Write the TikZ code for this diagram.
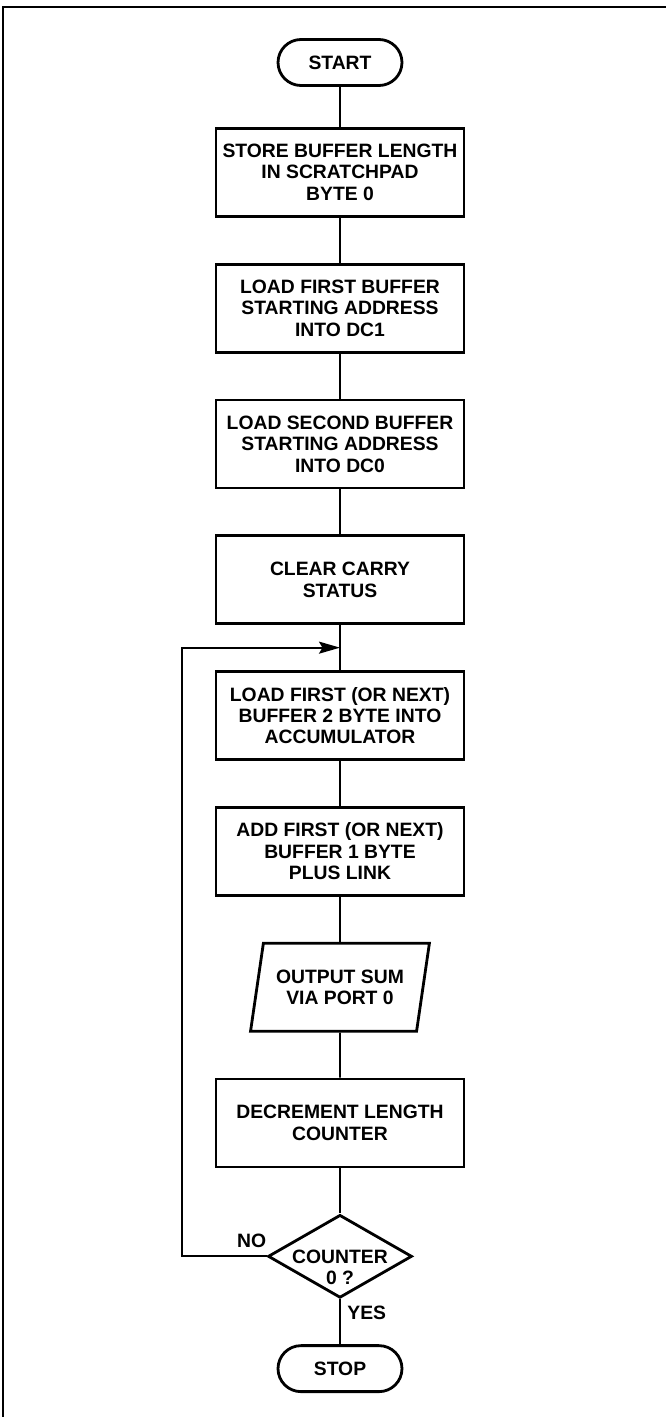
\documentclass[tikz,border=0pt]{standalone}
\usepackage{fontspec}
\setmainfont{Liberation Sans}
\usetikzlibrary{shapes.geometric, shapes.misc, arrows.meta, positioning, calc}
\tikzset{
  fcnode/.style={draw, line width=1.6pt, font=\fontsize{11}{12.2}\selectfont\bfseries, align=center, inner sep=2pt},
  procnode/.style={fcnode, rectangle, minimum width=4.96cm, minimum height=1.76cm},
  termnode/.style={fcnode, rounded rectangle, minimum width=2.62cm, minimum height=0.92cm},
  ionode/.style={fcnode, trapezium, trapezium left angle=75, trapezium right angle=105, trapezium stretches=true, minimum width=3.6cm, minimum height=1.76cm},
  decnode/.style={fcnode, diamond, aspect=1.73, inner sep=0pt, text height=8pt, text depth=0pt, minimum width=2.88cm, minimum height=1.66cm},
  flowline/.style={line width=1.1pt},
  loopline/.style={flowline, -{Stealth[length=4.2mm, width=2.4mm, inset=0.7mm]}},
  lbl/.style={font=\fontsize{11}{12}\selectfont\bfseries, inner sep=1pt},
}

\begin{document}
\begin{tikzpicture}[node distance=0.9cm]
  \useasboundingbox (0,0) rectangle (13.32,-28.34);
  % page frame
  \draw[flowline] (0.06,-28.34) -- (0.06,-0.14) -- (13.32,-0.14);
  \node[termnode] (start) at (6.8,-1.25) {START};
  \node[procnode, below=0.8cm of start] (store) {STORE BUFFER LENGTH\\IN SCRATCHPAD\\BYTE 0};
  \node[procnode, below=of store] (ldfirst) {LOAD FIRST BUFFER\\STARTING ADDRESS\\INTO DC1};
  \node[procnode, below=of ldfirst] (ldsecond) {LOAD SECOND BUFFER\\STARTING ADDRESS\\INTO DC0};
  \node[procnode, below=of ldsecond] (clear) {CLEAR CARRY\\STATUS};
  \node[procnode, below=of clear] (ldnext) {LOAD FIRST (OR NEXT)\\BUFFER 2 BYTE INTO\\ACCUMULATOR};
  \node[procnode, below=of ldnext] (add) {ADD FIRST (OR NEXT)\\BUFFER 1 BYTE\\PLUS LINK};
  \node[ionode, below=of add] (out) {OUTPUT SUM\\VIA PORT 0};
  \node[procnode, below=of out] (dec) {DECREMENT LENGTH\\COUNTER};
  \node[decnode, below=of dec] (test) {\begin{tabular}[t]{@{}c@{}}COUNTER\\0 ?\end{tabular}};
  \node[termnode, below=of test] (stop) {STOP};
  \foreach \i/\j in {start/store,store/ldfirst,ldfirst/ldsecond,ldsecond/clear,clear/ldnext,ldnext/add,add/out,out/dec,dec/test,test/stop}
    \draw[flowline] (\i) -- (\j);
  % loop back
  \coordinate (join) at ($(clear.south)!0.5!(ldnext.north)$);
  \coordinate (loopx) at (3.64,0);
  \draw[loopline] (test.west) -- (test.west -| loopx) |- (join);
  \node[lbl, anchor=south east] at ([xshift=1pt,yshift=3.5pt]test.west) {NO};
  \node[lbl, anchor=north west] at ([xshift=3pt,yshift=-2.5pt]test.south) {YES};
\end{tikzpicture}
\end{document}
